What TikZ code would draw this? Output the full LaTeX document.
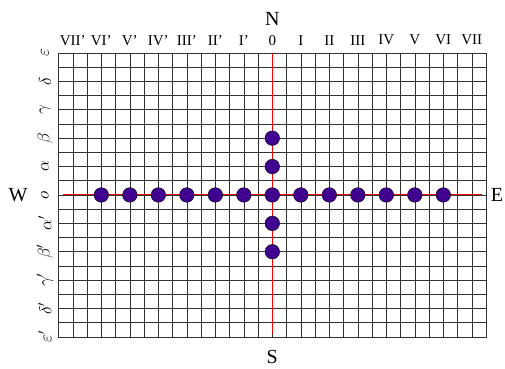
\documentclass[tikz,border=0pt]{standalone}
\usepackage{fontspec}
\setmainfont{Liberation Serif}
\usetikzlibrary{positioning}
\definecolor{dotpurple}{HTML}{400090}
\definecolor{axisred}{HTML}{FF0000}

\begin{document}
\begin{tikzpicture}[x=14.25pt,y=14.2pt,
      gridline/.style={black!80,line width=0.6pt},
      axisline/.style={axisred,line width=1pt},
      stone/.style={circle,draw=black,line width=0.4pt,fill=dotpurple,minimum size=14.6pt,inner sep=0pt},
      numlab/.style={font=\fontsize{15}{15}\selectfont,inner sep=0pt},
      greeklab/.style={rotate=90,font=\fontsize{17}{17}\selectfont,inner sep=0pt},
      compass/.style={font=\fontsize{20}{20}\selectfont,inner sep=0pt}]
    \useasboundingbox (-19.11,-12.25) rectangle (16.33,13.73);
    % board
    \draw[gridline,step=1] (-15,-10) grid (15,10);
    \draw[gridline] (-15,-10) rectangle (15,10);
    % axes
    \coordinate (west) at (-14.7,0);
    \coordinate (east) at (14.75,0);
    \coordinate (north) at (0,10);
    \coordinate (south) at (0,-9.8);
    \draw[axisline] (west)--(east);
    \draw[axisline] (north)--(south);
    % compass points
    \node[compass] (N) at (0,12.4) {N};
    \node[compass] (S) at (0,-11.4) {S};
    \node[compass] (W) at (-17.85,0) {W};
    \node[compass] (E) at (15.77,0) {E};
    % column labels
    \foreach \xx/\lab in {-14/VII',-12/VI',-10/V',-8/IV',-6/III',-4/II',-2/I',0/0,
                          2/I,4/II,6/III,8/IV,10/V,12/VI,14/VII}
      \node[numlab] (c\xx) at (\xx,10.9) {\lab};
    % row labels
    \foreach \yy/\lab in {10/\varepsilon,8/\delta,6/\gamma,4/\beta,2/\alpha,0/o,
                          -2/\alpha',-4/\beta',-6/\gamma',-8/\delta',-10/\varepsilon'}
      \node[greeklab] (r\yy) at (-15.95,\yy) {$\lab$};
    % stones
    \foreach \i in {-12,-10,...,12}
      \node[stone] (h\i) at (\i,0) {};
    \foreach \j in {-4,-2,2,4}
      \node[stone] (v\j) at (0,\j) {};
  \end{tikzpicture}
\end{document}
